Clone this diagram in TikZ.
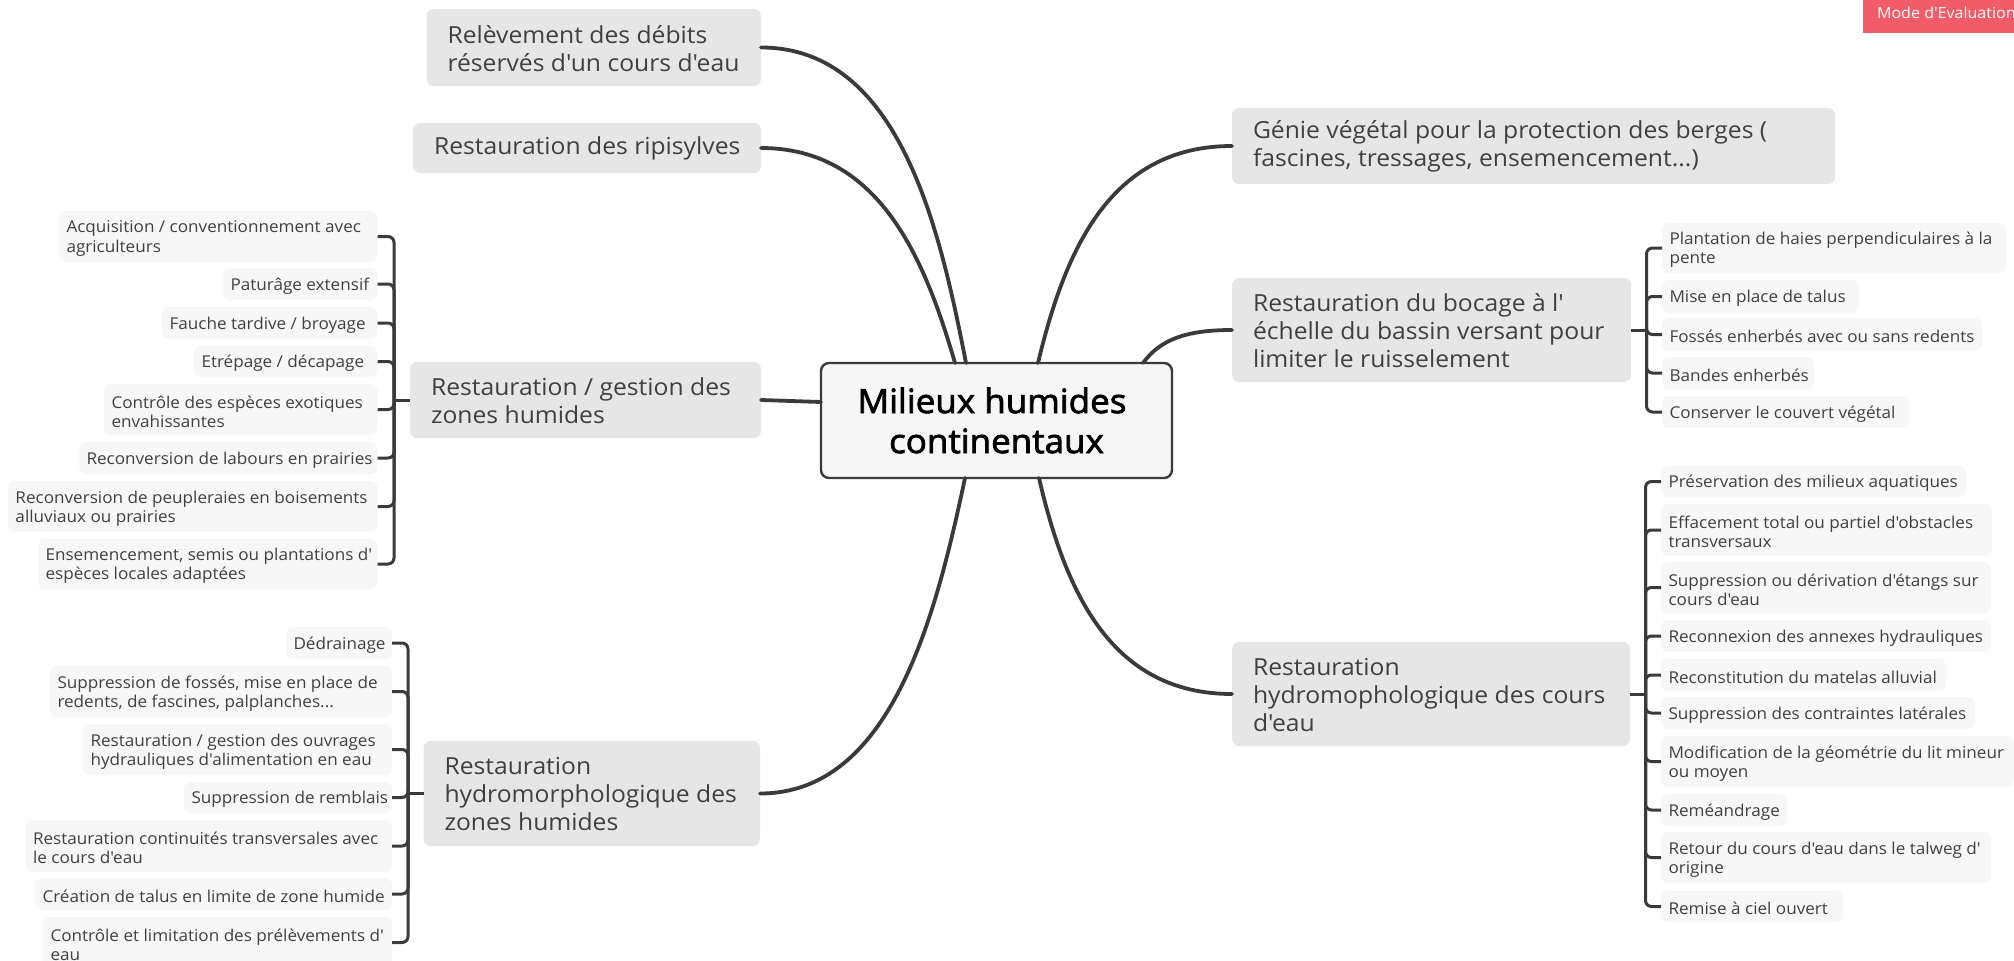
\documentclass[tikz,border=0pt]{standalone}
\usepackage{fontspec}
\newfontfamily\mmfont[FakeStretch=1.05]{Open Sans}
\newfontfamily\mmbold[FakeStretch=1.045,FakeBold=2.2]{Open Sans}
\definecolor{linec}{HTML}{3A3A3A}
\definecolor{parfill}{HTML}{E6E6E6}
\definecolor{kidfill}{HTML}{F7F7F7}
\definecolor{rootfill}{HTML}{F6F6F6}
\definecolor{badge}{HTML}{F25C68}
\definecolor{txt}{HTML}{404040}
\tikzset{
  parbox/.style={fill=parfill,rounded corners=7pt,inner sep=0pt,outer sep=0pt,text=txt,font=\mmfont\fontsize{23.5}{28}\selectfont},
  kidbox/.style={fill=kidfill,rounded corners=7pt,inner sep=0pt,outer sep=0pt,text=txt,font=\mmfont\fontsize{16.3}{19.3}\selectfont},
  rootbox/.style={fill=rootfill,draw=linec,line width=2.4pt,rounded corners=8pt,inner sep=0pt,outer sep=0pt,align=center,text=black,font=\mmbold\fontsize{33.5}{40}\selectfont},
  badgebox/.style={fill=badge,inner sep=0pt,outer sep=0pt,text=white,font=\mmfont\fontsize{15.3}{18}\selectfont},
  mainlink/.style={draw=linec,line width=3.8pt,line cap=round},
  branch/.style={draw=linec,line width=3pt,line cap=butt},
  twig/.style={draw=linec,line width=3pt,line cap=butt,rounded corners=6pt}
}
\newcommand{\bx}[9]{%
  \pgfmathsetmacro\bw{#7-#5-#2}\pgfmathsetmacro\bh{#8-#6}%
  \node[#1,anchor=north west] (#4) at (#5,#6) {\hspace*{#2pt}\parbox[c][\bh pt][c]{\bw pt}{\raggedright\vspace*{#3pt}#9}};}
\newcommand{\pbx}[6]{\bx{parbox}{21}{1.5}{#1}{#2}{#3}{#4}{#5}{#6}}
\newcommand{\kbx}[6]{\bx{kidbox}{7.5}{4}{#1}{#2}{#3}{#4}{#5}{#6}}
\begin{document}
\begin{tikzpicture}[x=1pt,y=-1pt]
\useasboundingbox (0,0) rectangle (2014,961);
% badge
\bx{badgebox}{14}{0}{mode}{1863}{0}{2014}{33}{\leavevmode\rlap{\smash{\raisebox{-2.5pt}{Mode d'Evaluation}}}}
% root
\node[rootbox,minimum width=351pt,minimum height=115pt,anchor=north west] (root) at (821,363) {Milieux humides\hspace*{9pt}\\ continentaux};
% parents
\pbx{rel}{426.5}{9}{761}{86}{Relèvement des débits\\réservés d'un cours d'eau}
\pbx{rip}{413}{123}{761}{173}{Restauration des ripisylves}
\pbx{ges}{410}{362}{761}{438}{Restauration / gestion des\\zones humides}
\pbx{hzh}{423.5}{741}{760}{846}{Restauration\\hydromorphologique des\\zones humides}
\pbx{gen}{1232}{108}{1835}{184}{Génie végétal pour la protection des berges (\\fascines, tressages, ensemencement...)}
\pbx{boc}{1232}{278}{1631}{382}{Restauration du bocage à l'\\échelle du bassin versant pour\\limiter le ruisselement}
\pbx{hce}{1232}{642}{1630}{746}{Restauration\\hydromophologique des cours\\d'eau}
% left children: gestion
\kbx{ga}{59}{211}{377.5}{262}{Acquisition / conventionnement avec\\agriculteurs}
\kbx{gb}{223}{268}{377.5}{300}{Paturâge extensif}
\kbx{gc}{162}{307}{377.5}{339}{Fauche tardive / broyage}
\kbx{gd}{194}{346}{377.5}{377}{Etrépage / décapage}
\kbx{ge}{104}{384}{377.5}{435}{Contrôle des espèces exotiques\\envahissantes}
\kbx{gf}{79}{442}{377.5}{474}{Reconversion de labours en prairies}
\kbx{gg}{8}{481}{377.5}{532}{Reconversion de peupleraies en boisements\\alluviaux ou prairies}
\kbx{gh}{38}{539}{377.5}{589}{Ensemencement, semis ou plantations d'\\espèces locales adaptées}
% left children: hydromorphologique zones humides
\kbx{za}{286}{627}{392}{659}{Dédrainage}
\kbx{zb}{50}{666}{392}{717}{Suppression de fossés, mise en place de\\redents, de fascines, palplanches...}
\kbx{zc}{83}{724}{392}{775}{Restauration / gestion des ouvrages\\hydrauliques d'alimentation en eau}
\kbx{zd}{184}{782}{392}{813}{Suppression de remblais}
\kbx{ze}{25.5}{820}{392}{872}{Restauration continuités transversales avec\\le cours d'eau}
\kbx{zf}{35}{878}{392}{910}{Création de talus en limite de zone humide}
\kbx{zg}{43}{917}{392}{968}{Contrôle et limitation des prélèvements d'\\eau}
% right children: bocage
\kbx{ba}{1662}{223}{2006}{273}{Plantation de haies perpendiculaires à la\\pente}
\kbx{bb}{1662}{280}{1859}{313}{Mise en place de talus}
\kbx{bc}{1662}{318}{1982}{351}{Fossés enherbés avec ou sans redents}
\kbx{bd}{1662}{357}{1814}{389}{Bandes enherbés}
\kbx{be}{1662}{396}{1909}{428}{Conserver le couvert végétal}
% right children: cours d'eau
\kbx{ca}{1661}{466}{1966}{497}{Préservation des milieux aquatiques}
\kbx{cb}{1661}{504}{1992}{556}{Effacement total ou partiel d'obstacles\\transversaux}
\kbx{cc}{1661}{562}{1991}{613}{Suppression ou dérivation d'étangs sur\\cours d'eau}
\kbx{cd}{1661}{620}{1991}{652}{Reconnexion des annexes hydrauliques}
\kbx{ce}{1661}{659}{1946}{691}{Reconstitution du matelas alluvial}
\kbx{cf}{1661}{697}{1975}{729}{Suppression des contraintes latérales}
\kbx{cg}{1661}{736}{2014}{787}{Modification de la géométrie du lit mineur\\ou moyen}
\kbx{ch}{1661}{794}{1787}{826}{Reméandrage}
\kbx{ci}{1661}{832}{1991}{883}{Retour du cours d'eau dans le talweg d'\\origine}
\kbx{cj}{1661}{891}{1843}{922}{Remise à ciel ouvert}
% attachment points on the root
\coordinate (r1) at (966,363);
\coordinate (r2) at (955,363);
\coordinate (r3) at (1038,363);
\coordinate (r4) at (1143,363);
\coordinate (r5) at (965,478);
\coordinate (r6) at (1039,478);
\coordinate (r7) at (821,402);
% main links
\draw[mainlink] (rel.east) .. controls +(139,0) and +(-26,-133) .. (r1);
\draw[mainlink] (rip.east) .. controls +(119,0) and +(-30,-103) .. (r2);
\draw[mainlink] (gen.west) .. controls +(-122,0) and +(27,-113) .. (r3);
\draw[mainlink] (boc.west) .. controls +(-47,0) and +(17,-23) .. (r4);
\draw[mainlink] (hzh.east) .. controls +(130,0) and +(-30,142) .. (r5);
\draw[mainlink] (hce.west) .. controls +(-122,0) and +(26,112) .. (r6);
\draw[mainlink] (ges.east) -- (r7);
% trunks
\coordinate (tg) at (394,400);
\coordinate (tz) at (408,793.5);
\coordinate (tb) at (1646.5,330);
\coordinate (tc) at (1645.5,694);
\draw[branch] (ges.west) -- (tg);
\draw[branch] (hzh.west) -- (tz);
\draw[branch] (boc.east) -- (tb);
\draw[branch] (hce.east) -- (tc);
\foreach \k in {ga,gb,gc,gd,ge,gf,gg,gh}{\draw[twig] (tg) -- (tg |- \k.east) -- (\k.east);}
\foreach \k in {za,zb,zc,zd,ze,zf,zg}{\draw[twig] (tz) -- (tz |- \k.east) -- (\k.east);}
\foreach \k in {ba,bb,bc,bd,be}{\draw[twig] (tb) -- (tb |- \k.west) -- (\k.west);}
\foreach \k in {ca,cb,cc,cd,ce,cf,cg,ch,ci,cj}{\draw[twig] (tc) -- (tc |- \k.west) -- (\k.west);}
\end{tikzpicture}
\end{document}
